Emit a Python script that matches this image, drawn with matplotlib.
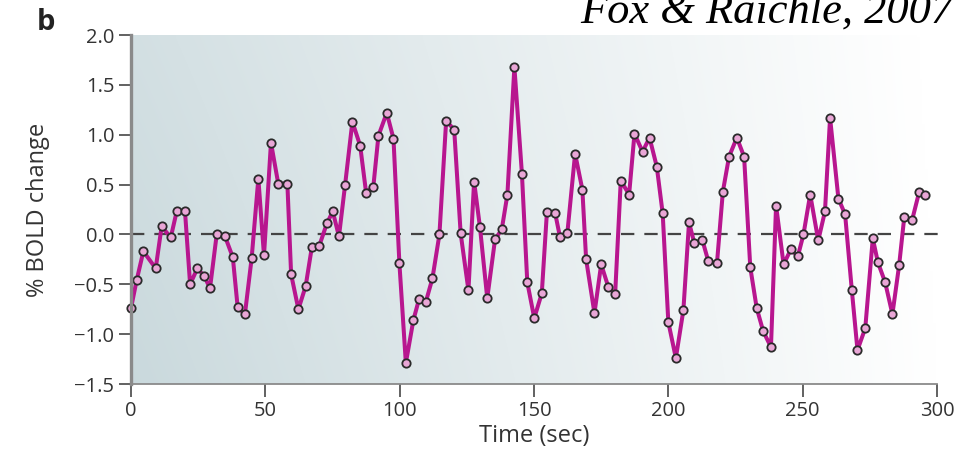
import numpy as np
import matplotlib
matplotlib.use('Agg')
import matplotlib.pyplot as plt

time_sec = [0.0, 2.1, 4.6, 9.2, 11.4, 14.8, 17.0, 20.1, 22.0, 24.7,
            27.3, 29.4, 31.9, 35.0, 37.9, 39.7, 42.4, 44.9, 47.4, 49.5,
            52.1, 54.8, 58.2, 59.6, 62.3, 65.0, 67.3, 70.0, 72.9, 75.1,
            77.4, 79.7, 82.4, 85.3, 87.5, 90.2, 92.1, 95.2, 97.7, 99.9,
            102.3, 105.1, 107.2, 109.7, 112.2, 114.8, 117.3, 120.3, 122.7, 125.6,
            127.7, 129.9, 132.6, 135.5, 138.0, 140.1, 142.7, 145.5, 147.5, 150.1,
            152.9, 154.8, 157.9, 159.7, 162.4, 165.3, 168.0, 169.4, 172.5, 175.0,
            177.7, 180.2, 182.3, 185.4, 187.4, 190.4, 193.0, 195.7, 197.9, 200.0,
            202.8, 205.6, 207.7, 209.7, 212.7, 214.9, 218.1, 220.3, 222.6, 225.5,
            228.2, 230.5, 232.9, 235.3, 238.2, 240.1, 242.9, 245.6, 248.2, 250.3,
            252.8, 255.8, 258.3, 260.2, 263.3, 265.8, 268.3, 270.4, 273.3, 276.1,
            278.0, 280.7, 283.4, 285.9, 287.8, 290.7, 293.4, 295.6]

bold_change = [-0.74, -0.46, -0.17, -0.34, 0.08, -0.03, 0.23, 0.23, -0.50, -0.34,
               -0.42, -0.54, 0.00, -0.02, -0.23, -0.73, -0.80, -0.24, 0.56, -0.21,
               0.92, 0.51, 0.51, -0.40, -0.75, -0.52, -0.13, -0.12, 0.11, 0.23,
               -0.02, 0.50, 1.13, 0.89, 0.42, 0.48, 0.99, 1.22, 0.96, -0.29,
               -1.29, -0.86, -0.65, -0.68, -0.44, 0.00, 1.14, 1.05, 0.01, -0.56,
               0.53, 0.07, -0.64, -0.05, 0.05, 0.40, 1.68, 0.61, -0.48, -0.84,
               -0.59, 0.22, 0.21, -0.03, 0.01, 0.81, 0.45, -0.25, -0.79, -0.30,
               -0.53, -0.60, 0.54, 0.40, 1.01, 0.83, 0.97, 0.68, 0.21, -0.88,
               -1.24, -0.76, 0.12, -0.09, -0.06, -0.27, -0.29, 0.43, 0.78, 0.97,
               0.78, -0.33, -0.74, -0.97, -1.13, 0.29, -0.30, -0.15, -0.22, 0.00,
               0.40, -0.06, 0.23, 1.17, 0.36, 0.20, -0.56, -1.16, -0.94, -0.04,
               -0.28, -0.48, -0.80, -0.31, 0.17, 0.14, 0.43, 0.40]

x_ticks = [0, 50, 100, 150, 200, 250, 300]
x_tick_labels = ['0', '50', '100', '150', '200', '250', '300']
y_ticks = [-1.5, -1.0, -0.5, 0.0, 0.5, 1.0, 1.5, 2.0]
y_tick_labels = ['\u22121.5', '\u22121.0', '\u22120.5', '0.0', '0.5', '1.0', '1.5', '2.0']

W, H = 968, 461
fig = plt.figure(figsize=(W / 100, H / 100), dpi=100)
fig.patch.set_facecolor('white')
ax = fig.add_axes([131 / W, 1 - 384 / H, (937 - 131) / W, (384 - 35) / H])
ax.set_xlim(0, 300)
ax.set_ylim(-1.5, 2.0)
ax.patch.set_visible(False)

# background gradient
nx, ny = 300, 100
u = np.linspace(0, 1, nx)[None, :]
v = np.linspace(0, 1, ny)[:, None]
w = np.clip((1 - u) ** 1.0 * (0.85 + 0.15 * (1 - v)) - 0.02 * v, 0, 1)
c = np.array([0.79, 0.85, 0.865])
img = 1 - w[..., None] * (1 - c)[None, None, :]
ax.imshow(img, extent=[0, 300, -1.5, 2.0], origin='lower', aspect='auto',
          zorder=0, interpolation='bilinear')

ax.plot([0, 303], [0, 0], color='#444444', lw=1.6, dashes=(6, 4.5), zorder=1,
        clip_on=False)

ax.plot(time_sec, bold_change, color='#b8168f', lw=2.9, zorder=2,
        marker='o', ms=6, mfc='#e9a6d6', mec='#2a2a2a', mew=1.3, clip_on=False)

for s in ['top', 'right']:
    ax.spines[s].set_visible(False)
ax.spines['left'].set_color('#8a8a8a')
ax.spines['left'].set_linewidth(2.4)
ax.spines['bottom'].set_color('#8a8a8a')
ax.spines['bottom'].set_linewidth(1.3)

font = ['Open Sans', 'DejaVu Sans']
ax.set_xticks(x_ticks)
ax.set_xticklabels(x_tick_labels, family=font, fontsize=14.5, color='#333333')
ax.set_yticks(y_ticks)
ax.set_yticklabels(y_tick_labels, family=font, fontsize=14.5, color='#333333')
ax.tick_params(axis='both', direction='out', length=9, width=1.3, color='#555555')
ax.tick_params(axis='x', pad=3)
ax.tick_params(axis='y', pad=3)

ax.set_xlabel('Time (sec)', family=font, fontsize=17, color='#333333')
ax.xaxis.set_label_coords(0.5, (384 - 424) / 349)
ax.set_ylabel('% BOLD change', family=font, fontsize=17, color='#333333')
ax.yaxis.set_label_coords((50 - 131) / 806, 0.5)

fig.text(37 / W, 1 - 30 / H, 'b', family=font, fontsize=21, fontweight='bold',
         color='#222222', ha='left', va='baseline')
fig.text(953 / W, 1 - 23 / H, 'Fox & Raichle, 2007', family=['Liberation Serif'],
         style='italic', fontsize=32, color='black', ha='right', va='baseline')

fig.savefig('out.png', dpi=100)
